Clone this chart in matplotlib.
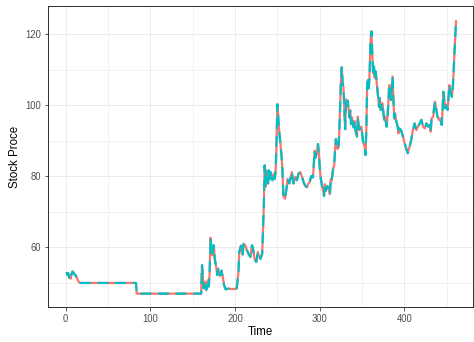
import matplotlib.pyplot as plt
import numpy as np

plt.rcParams['font.family'] = ['Liberation Sans', 'DejaVu Sans']

# time index and price
time = [1, 2, 3, 4, 5, 6, 7, 8, 9, 10, 11, 12, 13, 14, 15, 16, 17, 83, 84, 160,
        161, 163, 165, 166, 168, 169, 170, 171, 173, 175, 176, 178, 179, 180, 182, 184,
        186, 187, 189, 192, 196, 200, 202, 204, 205, 207, 209, 210, 212, 214, 216, 218,
        220, 221, 223, 225, 227, 228, 230, 232, 233, 234, 235, 236, 237, 239, 240, 241,
        242, 244, 246, 247, 248, 249, 250, 251, 252, 253, 255, 256, 257, 259, 261, 262,
        264, 265, 267, 269, 271, 273, 275, 277, 279, 281, 283, 285, 286, 288, 290, 292,
        293, 294, 295, 296, 298, 299, 300, 301, 303, 304, 305, 306, 307, 309, 310, 312,
        313, 314, 316, 317, 318, 319, 321, 322, 323, 324, 325, 326, 327, 328, 329, 330,
        331, 332, 333, 335, 336, 337, 338, 340, 341, 342, 344, 345, 346, 347, 349, 350,
        351, 353, 354, 355, 356, 357, 358, 359, 360, 361, 362, 363, 364, 365, 366, 367,
        369, 370, 371, 372, 374, 375, 376, 377, 379, 380, 381, 382, 383, 384, 386, 387,
        388, 389, 390, 392, 393, 394, 396, 398, 400, 402, 404, 406, 408, 410, 412, 414,
        416, 418, 420, 422, 424, 426, 428, 430, 431, 432, 434, 435, 436, 438, 439, 441,
        442, 444, 445, 446, 447, 448, 449, 451, 452, 453, 454, 456, 457, 458, 459, 460,
        461]
price = [53.0, 52.3, 52.8, 51.5, 52.0, 51.2, 52.5, 53.2, 53.0, 52.6, 52.3, 52.0, 51.5, 51.0, 50.5, 50.2, 50.0, 50.0, 47.0, 47.0,
         55.0, 48.5, 50.3, 48.0, 50.8, 49.0, 53.0, 62.7, 57.8, 60.6, 56.9, 54.1, 52.2, 54.0, 52.0, 53.5,
         51.0, 49.4, 48.2, 48.4, 48.3, 48.3, 48.5, 53.0, 58.8, 60.5, 58.0, 61.0, 60.6, 59.2, 58.2, 57.3,
         60.6, 60.0, 56.8, 55.9, 58.7, 57.7, 56.8, 58.2, 64.8, 72.3, 83.1, 77.0, 81.7, 78.0, 81.7, 79.3,
         81.2, 78.9, 80.8, 79.3, 82.2, 90.1, 100.3, 96.7, 93.0, 90.6, 85.4, 81.7, 74.6, 73.7, 77.0, 79.3,
         78.0, 78.9, 81.2, 78.0, 79.8, 78.9, 80.8, 81.2, 79.9, 78.3, 77.3, 76.9, 77.8, 78.3, 80.1, 79.7,
         83.4, 87.2, 85.3, 86.2, 89.1, 86.2, 82.5, 79.7, 76.9, 75.9, 74.5, 77.8, 75.9, 77.3, 76.9, 75.0,
         79.2, 78.7, 82.5, 83.0, 87.2, 90.5, 87.7, 88.1, 91.9, 99.4, 106.9, 110.7, 106.4, 105.0, 99.4, 93.3,
         101.7, 100.3, 101.3, 96.6, 98.5, 94.7, 96.6, 93.8, 95.6, 93.1, 91.2, 96.8, 94.0, 93.1, 94.0, 92.1,
         89.8, 88.4, 86.0, 93.1, 106.2, 107.1, 104.8, 110.0, 118.4, 120.8, 114.6, 109.0, 110.9, 107.6, 109.5, 107.1,
         102.4, 99.6, 102.0, 98.7, 100.6, 98.2, 95.9, 96.8, 94.0, 96.8, 100.6, 105.7, 103.8, 101.5, 108.1, 101.5,
         96.3, 97.7, 95.9, 94.0, 92.1, 93.5, 93.0, 91.4, 89.5, 87.9, 86.5, 88.4, 90.2, 93.0, 94.9, 93.0,
         94.0, 94.9, 95.9, 94.0, 93.5, 94.9, 94.0, 94.5, 92.6, 96.3, 96.8, 99.2, 101.0, 98.2, 96.8, 95.9,
         96.3, 94.5, 98.7, 103.8, 101.5, 99.2, 100.1, 98.7, 102.4, 105.7, 104.3, 102.4, 104.8, 109.0, 114.6, 119.3,
         124.0]

fig = plt.figure(figsize=(474 / 72, 342 / 72), dpi=72)
ax = fig.add_axes([0.101, 0.102, 0.897, 0.881])

ax.plot(time, price, color='#F8766D', linewidth=2.2, solid_capstyle='butt')
ax.plot(time, price, color='#00BFC4', linewidth=2.2, linestyle=(0, (5, 3)))

ax.set_xlim(-21, 481)
ax.set_ylim(43.2, 128)
ax.set_xticks([0, 100, 200, 300, 400])
ax.set_yticks([60, 80, 100, 120])
ax.set_xticks([50, 150, 250, 350, 450], minor=True)
ax.set_yticks([50, 70, 90, 110], minor=True)
ax.grid(True, which='major', color='#EBEBEB', linewidth=1.0)
ax.grid(True, which='minor', color='#EBEBEB', linewidth=0.6)
ax.set_axisbelow(True)
ax.tick_params(which='major', length=3.5, color='#333333', labelsize=9.5, labelcolor='#4D4D4D', width=0.8)
ax.tick_params(which='minor', length=0)
for s in ax.spines.values():
    s.set_color('#333333')
    s.set_linewidth(1.0)

ax.set_xlabel('Time', fontsize=11.5, labelpad=2)
ax.set_ylabel('Stock Proce', fontsize=11.5)

plt.savefig('out.png', dpi=72)
